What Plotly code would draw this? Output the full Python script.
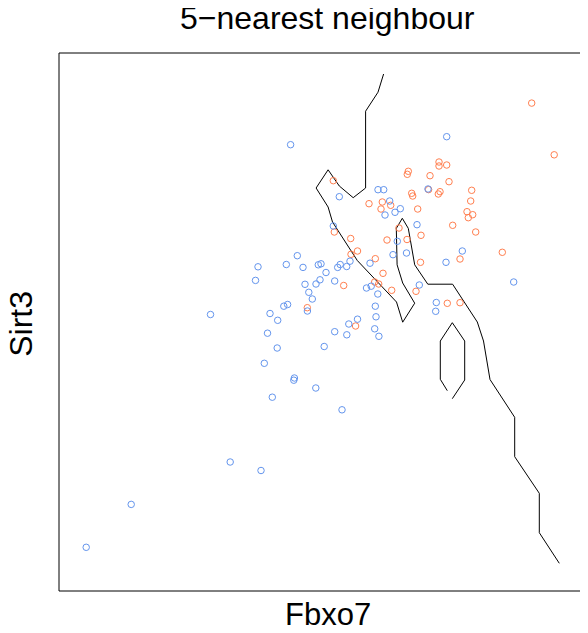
import plotly.graph_objects as go

# Class 1 (blue) points: Fbxo7, Sirt3
blue_x = [2.906, 4.467, 3.393, 3.78, 3.837, 4.28, 3.897, 4.003, 3.95, 3.85,
          3.333, 4.17, 3.973, 4.065, 3.93, 4.623, 4.46, 5.137, 4.193, 2.973,
          2.58, 2.863, 3.03, 3.183, 3.21, 3.402, 3.377, 3.467, 3.50, 3.70,
          2.555, 3.26, 3.05, 3.16, 3.20, 3.347, 3.088, 3.123, 3.665, 3.712,
          3.778, 4.363, 4.357, 2.838, 2.876, 3.074, 2.70, 2.777, 3.753, 3.76,
          3.575, 3.488, 3.347, 3.468, 3.747, 3.789, 2.105, 2.675, 2.772, 3.242,
          2.643, 2.944, 2.938, 3.158, 2.723, 3.42, 2.302, 2.61, 1.312, 0.862]
blue_y = [4.553, 4.633, 4.033, 4.103, 4.103, 4.11, 3.99, 3.913, 3.877, 3.85,
          3.74, 3.753, 3.587, 3.47, 3.453, 3.49, 3.377, 3.18, 3.15, 3.443,
          3.332, 3.355, 3.326, 3.352, 3.362, 3.355, 3.326, 3.335, 3.388, 3.368,
          3.196, 3.275, 3.157, 3.16, 3.202, 3.19, 3.077, 3.01, 3.12, 3.138,
          3.06, 2.975, 2.887, 2.938, 2.955, 2.89, 2.865, 2.797, 2.938, 2.832,
          2.808, 2.76, 2.683, 2.652, 2.712, 2.637, 2.855, 2.668, 2.52, 2.535,
          2.367, 2.22, 2.198, 2.12, 2.028, 1.902, 1.38, 1.295, 0.956, 0.527]

# Class 2 (orange) points
orange_x = [5.317, 5.542, 3.333, 4.083, 4.073, 4.39, 4.39, 4.467, 4.30, 4.49,
            4.117, 4.127, 4.383, 4.40, 4.717, 4.707, 3.69, 3.823, 3.81, 3.907,
            4.177, 4.67, 4.683, 4.727, 4.527, 4.757, 3.343, 3.99, 3.507, 4.21,
            3.87, 4.07, 3.575, 3.51, 3.753, 4.205, 4.60, 5.023, 3.83, 3.747,
            3.787, 3.437, 3.917, 4.16, 4.473, 4.60, 3.073, 3.556, 4.286]
orange_y = [4.969, 4.452, 4.193, 4.287, 4.257, 4.38, 4.34, 4.35, 4.243, 4.183,
            4.067, 4.04, 4.06, 4.083, 4.097, 3.99, 3.963, 3.98, 3.91, 3.947,
            3.91, 3.883, 3.823, 3.853, 3.747, 3.68, 3.68, 3.72, 3.615, 3.647,
            3.60, 3.605, 3.49, 3.457, 3.413, 3.377, 3.41, 3.477, 3.267, 3.18,
            3.16, 3.145, 3.097, 3.087, 2.967, 2.973, 2.923, 2.74, 4.104]

# Decision boundary (main contour)
bound_x = [3.836, 3.78, 3.656, 3.656, 3.532, 3.393, 3.281, 3.161, 3.281, 3.325,
           3.573, 3.965, 4.027, 4.147, 4.027, 3.971, 3.963, 4.023, 4.083, 4.147,
           4.278, 4.526, 4.773, 4.835, 4.90, 5.147, 5.147, 5.393, 5.393, 5.593]
bound_y = [5.26, 5.078, 4.888, 4.12, 4.023, 4.14, 4.302, 4.12, 3.93, 3.78,
           3.395, 2.98, 2.778, 2.968, 3.17, 3.352, 3.716, 3.817, 3.716, 3.352,
           3.158, 3.158, 2.78, 2.59, 2.205, 1.827, 1.433, 1.067, 0.673, 0.367]

# Decision boundary (small island)
island_x = [4.473, 4.403, 4.403, 4.523, 4.647, 4.647, 4.523]
island_y = [2.093, 2.207, 2.59, 2.773, 2.59, 2.20, 2.013]

title_text = "5\u2212nearest neighbour"
x_label = "Fbxo7"
y_label = "Sirt3"

fig = go.Figure()
fig.add_trace(go.Scatter(x=bound_x, y=bound_y, mode="lines",
                         line=dict(color="black", width=1), hoverinfo="skip"))
fig.add_trace(go.Scatter(x=island_x, y=island_y, mode="lines",
                         line=dict(color="black", width=1), hoverinfo="skip"))
fig.add_trace(go.Scatter(x=orange_x, y=orange_y, mode="markers",
                         marker=dict(symbol="circle-open", size=6.5, color="coral",
                                     line=dict(width=1, color="coral"))))
fig.add_trace(go.Scatter(x=blue_x, y=blue_y, mode="markers",
                         marker=dict(symbol="circle-open", size=6.5, color="cornflowerblue",
                                     line=dict(width=1, color="cornflowerblue"))))

# plot frame: left, top and bottom sides (right side lies beyond the window)
frame = dict(type="line", xref="paper", yref="paper",
             line=dict(color="black", width=1), layer="above")
shapes = [
    dict(frame, x0=0, x1=0, y0=0, y1=1),
    dict(frame, x0=0, x1=1.02, y0=1, y1=1),
    dict(frame, x0=0, x1=1.02, y0=0, y1=0),
]

font_family = "Liberation Sans, Arial, sans-serif"
fig.update_layout(
    width=580, height=625,
    margin=dict(l=51, r=0, t=45, b=42),
    paper_bgcolor="white", plot_bgcolor="white",
    showlegend=False,
    font=dict(family=font_family, color="black"),
    xaxis=dict(range=[0.59, 5.88], showgrid=False, zeroline=False,
               showticklabels=False, ticks="", showline=False),
    yaxis=dict(range=[0.09, 5.47], showgrid=False, zeroline=False,
               showticklabels=False, ticks="", showline=False),
    shapes=shapes,
    annotations=[
        dict(text=title_text, xref="paper", yref="paper", x=0.5083, y=1.0645,
             xanchor="center", yanchor="middle", showarrow=False,
             font=dict(size=32, family=font_family, color="black")),
        dict(text=x_label, xref="paper", yref="paper", x=0.5085, y=-0.044,
             xanchor="center", yanchor="middle", showarrow=False,
             font=dict(size=31, family=font_family, color="black")),
        dict(text=y_label, xref="paper", yref="paper", x=-0.0718, y=0.4968,
             xanchor="center", yanchor="middle", showarrow=False, textangle=-90,
             font=dict(size=32, family=font_family, color="black")),
    ],
)

fig.write_html("out.html")
